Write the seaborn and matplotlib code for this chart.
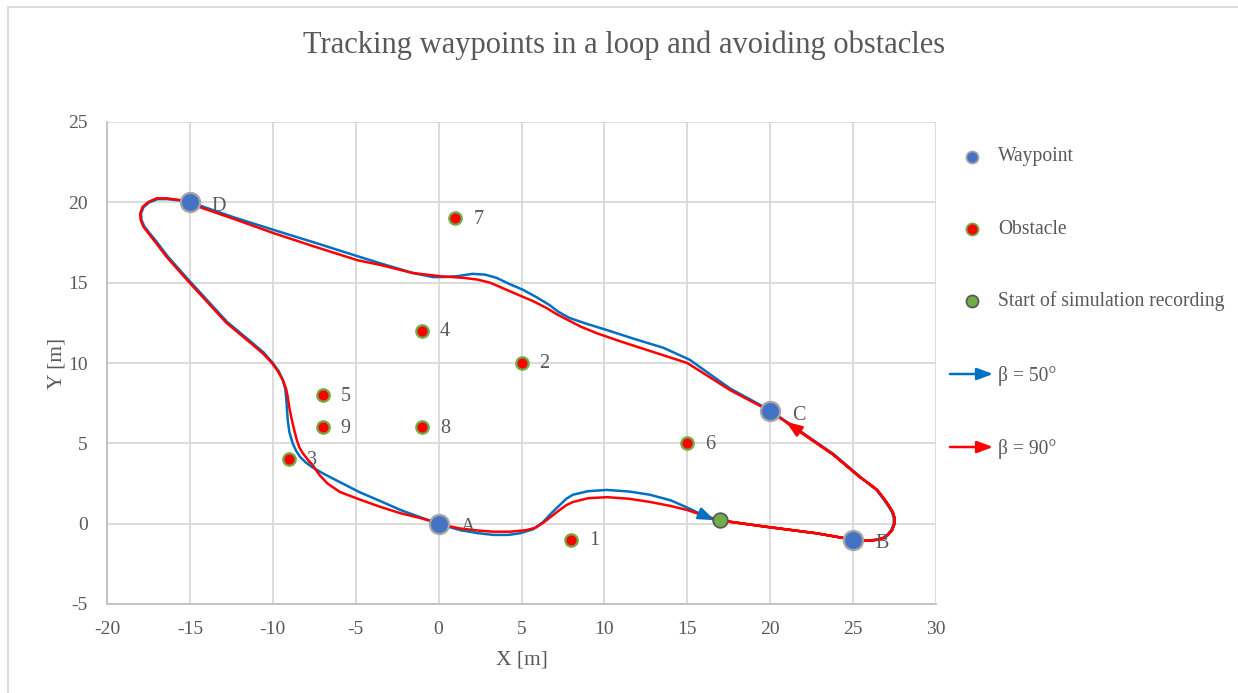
import numpy as np
import pandas as pd
import matplotlib
matplotlib.use("Agg")
import matplotlib.pyplot as plt
import matplotlib.patches as mpatches
import seaborn as sns

# ---- data -------------------------------------------------------------
waypoint_names = ["A", "B", "C", "D"]
waypoint_x = [0, 25, 20, -15]
waypoint_y = [0, -1, 7, 20]

obstacle_ids = ["1", "2", "3", "4", "5", "6", "7", "8", "9"]
obstacle_x = [8, 5, -9, -1, -7, 15, 1, -1, -7]
obstacle_y = [-1, 10, 4, 12, 8, 5, 19, 6, 6]

start_x = [17.0]
start_y = [0.2]

# trajectory with beta = 90 deg (starts at the recording point, one lap plus overlap up to C)
red_x = [17.0, 19.8, 22.8, 25.0, 25.5, 26.0, 26.45, 26.8, 27.1, 27.35, 27.5, 27.5, 27.4, 27.2,
         26.9, 26.45, 25.95, 25.4, 24.6, 23.8, 22.6, 21.4, 20.0,
         17.6, 16.3, 15.0, 13.8, 12.6, 11.1, 9.55, 8.6, 7.75, 7.1, 6.55, 5.7, 4.9, 4.0, 3.1, 2.3,
         1.5, 0.1, -1.55, -3.5, -4.9, -7.5, -10.0, -12.3, -14.4, -15.0, -15.6, -16.4, -17.0, -17.5,
         -17.85, -18.0, -17.97, -17.8, -17.5, -17.1, -16.4, -15.2, -14.0, -12.8, -11.4, -10.6,
         -10.05, -9.7, -9.4, -9.2, -9.1, -9.0, -8.85, -8.7, -8.55, -8.4, -8.2, -7.9, -7.6, -7.2,
         -6.7, -5.95, -4.75, -3.5, -2.3, -1.1, -0.1, 0.6, 1.3, 2.3, 3.3, 4.3, 5.3, 5.85, 6.3, 6.8,
         7.3, 7.7, 8.1, 9.0, 10.15, 11.5, 12.75, 14.0, 15.0, 16.0, 17.0, 19.8, 22.8, 25.0, 25.5,
         26.0, 26.45, 26.8, 27.1, 27.35, 27.5, 27.5, 27.4, 27.2, 26.9, 26.45, 25.95, 25.4, 24.6,
         23.8, 22.6, 20.95]
red_y = [0.2, -0.2, -0.6, -1.0, -1.05, -1.05, -1.0, -0.9, -0.7, -0.4, 0.0, 0.35, 0.7, 1.05,
         1.5, 2.1, 2.5, 2.9, 3.6, 4.3, 5.15, 6.0, 7.0,
         8.3, 9.15, 10.0, 10.4, 10.8, 11.3, 11.85, 12.25, 12.7, 13.05, 13.4, 13.85, 14.2, 14.6, 15.0,
         15.2, 15.3, 15.4, 15.6, 16.1, 16.4, 17.25, 18.1, 18.95, 19.7, 20.0, 20.14, 20.25, 20.25,
         20.03, 19.72, 19.3, 18.9, 18.48, 18.07, 17.55, 16.6, 15.2, 13.85, 12.5, 11.3, 10.6,
         10.0, 9.5, 8.95, 8.4, 7.9, 7.2, 6.45, 5.8, 5.2, 4.75, 4.4, 4.0, 3.65, 3.05,
         2.5, 1.97, 1.5, 1.04, 0.65, 0.35, 0.05, -0.15, -0.3, -0.42, -0.5, -0.5, -0.4, -0.25, 0.05, 0.45,
         0.85, 1.15, 1.35, 1.58, 1.65, 1.55, 1.35, 1.1, 0.85, 0.5, 0.2, -0.2, -0.6, -1.0, -1.05,
         -1.05, -1.0, -0.9, -0.7, -0.4, 0.0, 0.35, 0.7, 1.05, 1.5, 2.1, 2.5, 2.9, 3.6,
         4.3, 5.15, 6.35]

# trajectory with beta = 50 deg
blue_x = [17.0, 19.8, 22.8, 25.0, 25.5, 26.0, 26.45, 26.8, 27.05, 27.3, 27.45, 27.45, 27.35,
          27.15, 26.85, 26.4, 25.9, 25.4, 24.6, 23.8, 22.6, 21.4, 20.0,
          17.6, 16.3, 15.15, 13.55, 11.8, 10.15, 8.9, 7.9, 7.2, 6.7, 5.9, 5.1, 4.2, 3.5, 2.8, 2.05,
          1.1, 0.3, -0.35, -1.55, -3.5, -4.9, -7.5, -10.0, -12.3, -14.4, -15.0, -15.6, -16.4,
          -16.95, -17.45, -17.8, -17.95, -17.92, -17.75, -17.45, -17.05, -16.35, -15.15, -13.95,
          -12.75, -11.35, -10.55, -10.0, -9.65, -9.4, -9.25, -9.2, -9.15, -9.1, -9.0, -8.8, -8.6,
          -8.35, -8.0, -7.6, -7.1, -6.55, -5.6, -4.75, -3.5, -2.3, -1.1, 0.0, 0.6, 1.3, 2.3, 3.3,
          4.2, 4.9, 5.7, 6.3, 6.8, 7.3, 7.7, 8.1, 9.0, 10.15, 11.5, 12.75, 14.0, 15.0, 15.8, 16.65]
blue_y = [0.2, -0.2, -0.6, -1.0, -1.05, -1.05, -1.0, -0.9, -0.7, -0.4, 0.0, 0.35, 0.7,
          1.05, 1.5, 2.1, 2.5, 2.95, 3.65, 4.35, 5.2, 6.05, 7.05,
          8.4, 9.35, 10.2, 10.95, 11.5, 12.05, 12.45, 12.8, 13.2, 13.6, 14.1, 14.55, 14.95, 15.3,
          15.5, 15.55, 15.4, 15.35, 15.35, 15.6, 16.2, 16.65, 17.5, 18.3, 19.05, 19.8, 20.0, 20.12,
          20.2, 20.2, 20.0, 19.7, 19.3, 18.9, 18.5, 18.1, 17.6, 16.65, 15.25, 13.9,
          12.55, 11.35, 10.65, 10.0, 9.5, 8.95, 8.4, 7.9, 7.2, 6.45, 5.7, 5.0, 4.55,
          4.15, 3.8, 3.5, 3.2, 2.9, 2.4, 1.95, 1.4, 0.85, 0.4, 0.0, -0.2, -0.4, -0.58, -0.7,
          -0.7, -0.6, -0.35, 0.1, 0.65, 1.15, 1.55, 1.8, 2.02, 2.1, 2.0, 1.8, 1.45, 1.0, 0.6, 0.22]

series_labels = ["β = 50°", "β = 90°"]

# ---- style ------------------------------------------------------------
sns.set_theme(style="whitegrid")
plt.rcParams["font.family"] = ["Liberation Serif", "DejaVu Serif"]
plt.rcParams["axes.unicode_minus"] = False
TXT = "#595959"
GRID = "#D9D9D9"
BLUE = "#0070C0"
RED = "#FF0000"
WP_FILL = "#4472C4"
OBS_EDGE = "#70AD47"

fig = plt.figure(figsize=(12.38, 6.93), dpi=100)
fig.patch.set_facecolor("white")

# outer chart border (only top and left edges fall inside the canvas)
fig.add_artist(mpatches.Rectangle((8 / 1238, -0.05), 1.1, 0.05 + (693 - 7) / 693,
                                  transform=fig.transFigure, fill=False,
                                  edgecolor=GRID, lw=1.3, clip_on=False))

ax = fig.add_axes([107 / 1238, (693 - 604) / 693, (936 - 107) / 1238, (604 - 122) / 693])
ax.set_facecolor("white")

df_blue = pd.DataFrame({"x": blue_x, "y": blue_y})
df_red = pd.DataFrame({"x": red_x, "y": red_y})
line_kw = dict(sort=False, estimator=None, lw=1.8, solid_joinstyle="round", solid_capstyle="round")
sns.lineplot(data=df_blue, x="x", y="y", color=BLUE, ax=ax, zorder=3, **line_kw)
sns.lineplot(data=df_red, x="x", y="y", color=RED, ax=ax, zorder=4, **line_kw)

arrow_style = "-|>,head_length=0.8,head_width=0.3"
# arrow heads at the end of each trajectory
for xs, ys, c in [(blue_x, blue_y, BLUE), (red_x, red_y, RED)]:
    ax.annotate("", xy=(xs[-1], ys[-1]), xytext=(xs[-2], ys[-2]),
                arrowprops=dict(arrowstyle=arrow_style, color=c, lw=1.8,
                                shrinkA=0, shrinkB=0), zorder=5)

sns.scatterplot(x=obstacle_x, y=obstacle_y, s=80, color=RED, edgecolor=OBS_EDGE, linewidth=1.6,
                ax=ax, zorder=6)
sns.scatterplot(x=waypoint_x, y=waypoint_y, s=190, color=WP_FILL, edgecolor="#A5A5A5", linewidth=1.6,
                ax=ax, zorder=7)
sns.scatterplot(x=start_x, y=start_y, s=110, color=OBS_EDGE, edgecolor="#595959", linewidth=1.3,
                ax=ax, zorder=8)

for n, x, y in zip(waypoint_names, waypoint_x, waypoint_y):
    ax.annotate(n, (x, y), xytext=(22, -4), textcoords="offset pixels", fontsize=14.5,
                color=TXT, va="center", ha="left", zorder=9)
for n, x, y in zip(obstacle_ids, obstacle_x, obstacle_y):
    ax.annotate(n, (x, y), xytext=(18, -1), textcoords="offset pixels", fontsize=14.5,
                color=TXT, va="center", ha="left", zorder=9)

ax.set_xlim(-20, 30)
ax.set_ylim(-5, 25)
ax.set_xticks(np.arange(-20, 31, 5))
ax.set_yticks(np.arange(-5, 26, 5))
ax.grid(True, color=GRID, lw=1.3)
ax.tick_params(axis="both", length=0, labelsize=14, colors=TXT)
ax.tick_params(axis="x", pad=12)
ax.tick_params(axis="y", pad=14)
for s in ["top", "right"]:
    ax.spines[s].set_visible(False)
for s in ["left", "bottom"]:
    ax.spines[s].set_color("#BFBFBF")
    ax.spines[s].set_linewidth(1.3)
ax.set_xlabel("X [m]", fontsize=15.5, color=TXT, labelpad=9)
ax.set_ylabel("Y [m]", fontsize=15.5, color=TXT, labelpad=1)

fig.text(624 / 1238, 1 - 45 / 693, "Tracking waypoints in a loop and avoiding obstacles",
         ha="center", va="center", fontsize=22, color=TXT)

# legend panel on the right
lg = fig.add_axes([0, 0, 1, 1], facecolor="none")
lg.set_xlim(0, 1238)
lg.set_ylim(693, 0)
lg.axis("off")
lg.scatter([972], [157], s=75, color=WP_FILL, edgecolor="#A5A5A5", linewidth=1.3, zorder=3)
lg.scatter([972], [229], s=75, color=RED, edgecolor=OBS_EDGE, linewidth=1.3, zorder=3)
lg.scatter([972], [301], s=75, color=OBS_EDGE, edgecolor="#595959", linewidth=1.3, zorder=3)
legend_rows = [("Waypoint", 157), ("Obstacle", 229), ("Start of simulation recording", 301)]
for t, yy in legend_rows:
    lg.text(998, yy, t, fontsize=14.1, color=TXT, va="center", ha="left")
for (lab, yy, c) in [(series_labels[0], 374, BLUE), (series_labels[1], 447, RED)]:
    lg.annotate("", xy=(993, yy), xytext=(950, yy),
                arrowprops=dict(arrowstyle=arrow_style, color=c, lw=1.8,
                                shrinkA=0, shrinkB=0))
    lg.text(998, yy + 2, lab, fontsize=14.1, color=TXT, va="center", ha="left")

fig.savefig("out.png", dpi=100, facecolor="white")
